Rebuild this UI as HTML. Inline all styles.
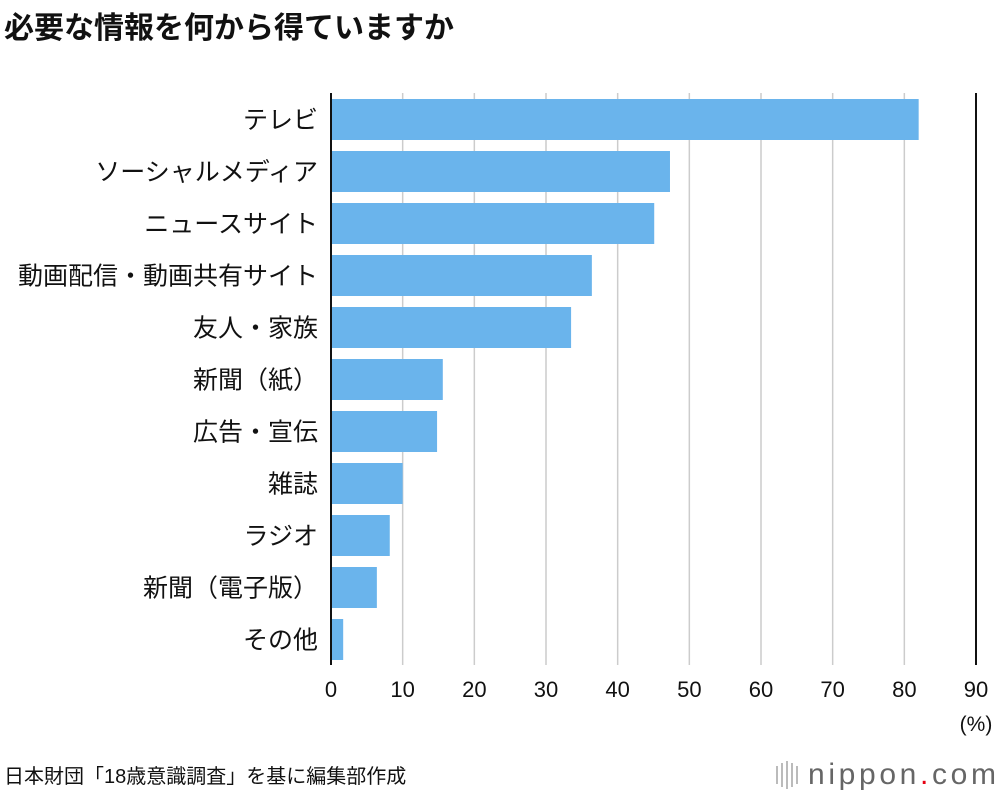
<!DOCTYPE html>
<html><head><meta charset="utf-8"><style>
body{margin:0;background:#fff;width:1000px;height:796px;overflow:hidden;font-family:"Liberation Sans","Noto Sans CJK JP",sans-serif;}
</style></head><body>
<svg width="1000" height="796" xmlns="http://www.w3.org/2000/svg" font-family="Liberation Sans, Noto Sans CJK JP, sans-serif">
<text x="4" y="38" font-size="30" font-weight="bold" fill="#111">必要な情報を何から得ていますか</text>
<g id="grid"></g><g id="bars"></g><g id="labels"></g><g id="ticks"></g>
<text x="976" y="731" font-size="21" text-anchor="middle" fill="#111">(%)</text>
<text x="4" y="783" font-size="20" fill="#111">日本財団「18歳意識調査」を基に編集部作成</text>
<g>
<rect x="776" y="766" width="2" height="18" fill="#bbb"/><rect x="781" y="763" width="2" height="24" fill="#bbb"/><rect x="786" y="761" width="2" height="28" fill="#bbb"/><rect x="791" y="763" width="2" height="24" fill="#bbb"/><rect x="796" y="766" width="2" height="18" fill="#bbb"/>
<text x="808" y="784" font-size="30" fill="#666" textLength="188" lengthAdjust="spacing">nippon<tspan fill="#e60012">.</tspan>com</text>
</g>
</svg>
<script>
const categories=["テレビ","ソーシャルメディア","ニュースサイト","動画配信・動画共有サイト","友人・家族","新聞（紙）","広告・宣伝","雑誌","ラジオ","新聞（電子版）","その他"];
const values=[82.0,47.3,45.1,36.4,33.5,15.6,14.8,10.0,8.2,6.4,1.7];
const tickValues=[0,10,20,30,40,50,60,70,80,90];
const NS="http://www.w3.org/2000/svg";
const X0=331,X1=976,XMAX=90,PTOP=93,PBOT=665,STEP=52,BARH=41,FIRST=99;
const xs=v=>X0+(v/XMAX)*(X1-X0);
function mk(tag,attrs,parent){const e=document.createElementNS(NS,tag);for(const k in attrs)e.setAttribute(k,attrs[k]);document.getElementById(parent).appendChild(e);return e;}
tickValues.forEach((t,i)=>{
 const edge=(i===0||t===XMAX);
 const l=mk('line',{x1:xs(t),x2:xs(t),y1:PTOP,y2:PBOT,stroke:edge?'#111':'#ccc','stroke-width':edge?2:1.5},'grid');
 
 
 const tx=mk('text',{x:xs(t),y:697,'font-size':22,'text-anchor':'middle',fill:'#111'},'ticks');
 tx.textContent=t;
 
 
});
categories.forEach((c,i)=>{
 const y=FIRST+i*STEP;
 const r=mk('rect',{x:X0+1,y:y,width:xs(values[i])-X0-1,height:BARH,fill:'#6ab4ec'},'bars');
 
 
 const t=mk('text',{x:318,y:y+BARH/2+9,'font-size':25,'text-anchor':'end',fill:'#111'},'labels');
 t.textContent=c;
 
 
});
</script>
</body></html>
